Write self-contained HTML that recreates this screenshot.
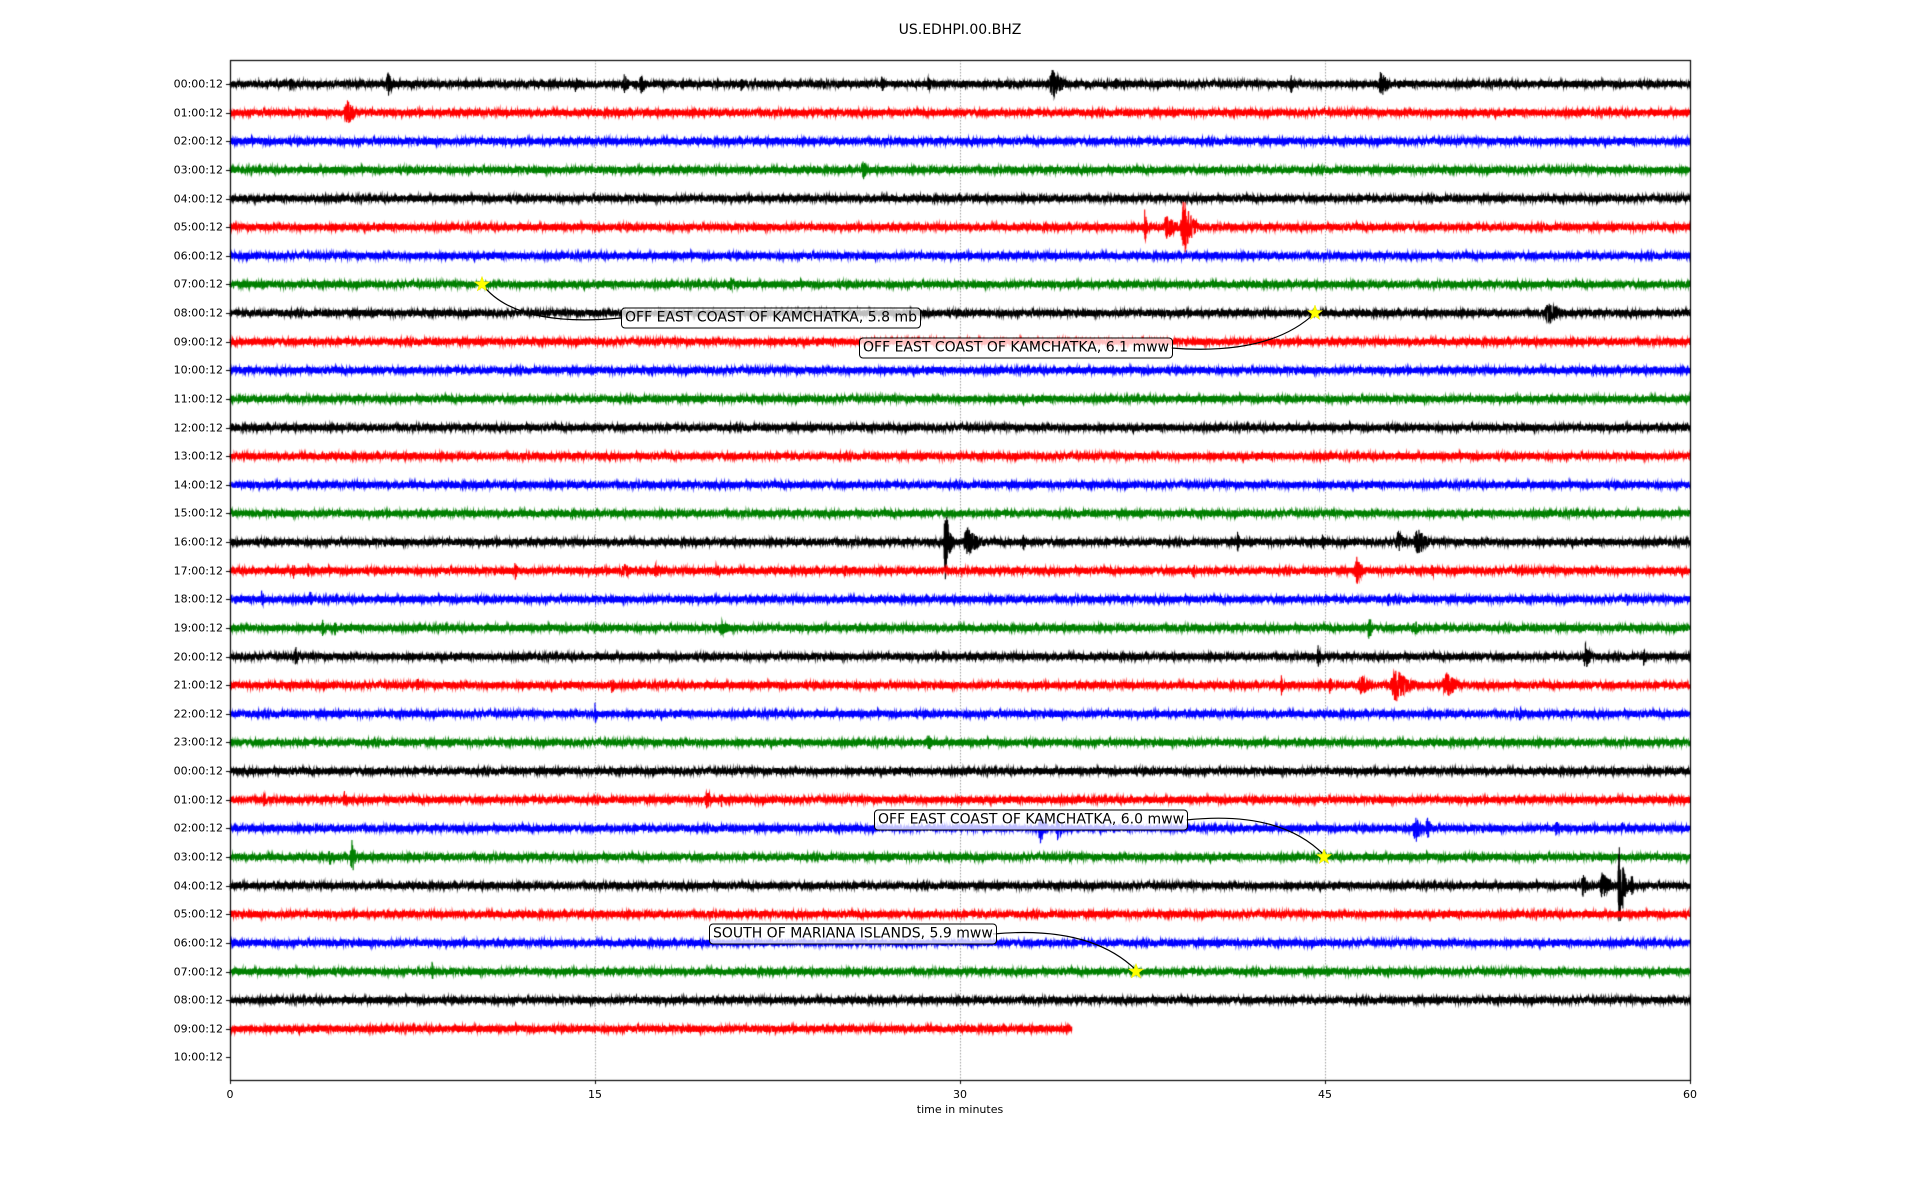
<!DOCTYPE html>
<html><head><meta charset="utf-8">
<style>
html,body{margin:0;padding:0;background:#fff;width:1920px;height:1200px;overflow:hidden;font-family:"DejaVu Sans","Liberation Sans",sans-serif;}
#c{position:absolute;left:0;top:0}
.t{position:absolute;font-size:12px;color:#000;white-space:nowrap}
.yl{position:absolute;right:1697px;font-size:11px;transform:translateY(-50%);white-space:nowrap}
.xl{position:absolute;top:1088px;font-size:11px;transform:translateX(-50%)}
.box{position:absolute;font-size:14px;background:rgba(255,255,255,0.75);border:1px solid #000;border-radius:4px;padding:1px 3px;transform:translateY(-50%);white-space:nowrap;line-height:17px}
svg{position:absolute;left:0;top:0}
</style></head><body>
<canvas id="c" width="1920" height="1200"></canvas>
<div class="t" style="left:960px;top:22px;font-size:14px;transform:translateX(-50%)">US.EDHPI.00.BHZ</div>
<div class="t" style="left:960px;top:1103px;font-size:11px;transform:translateX(-50%)">time in minutes</div>
<div id="yl"></div>
<div class="xl" style="left:230px">0</div>
<div class="xl" style="left:595px">15</div>
<div class="xl" style="left:960px">30</div>
<div class="xl" style="left:1325px">45</div>
<div class="xl" style="left:1690px">60</div>
<svg width="1920" height="1200">
<path d="M482,284 Q515,328 621,318" fill="none" stroke="#000" stroke-width="1.2"/>
<path d="M1315,313 Q1270,356 1171,348" fill="none" stroke="#000" stroke-width="1.2"/>
<path d="M1186,820 Q1280,810 1324,855" fill="none" stroke="#000" stroke-width="1.2"/>
<path d="M993,934 Q1090,925 1136,970" fill="none" stroke="#000" stroke-width="1.2"/>
<g id="stars" fill="#ffff00" stroke="#e6e600" stroke-width="0.5"></g>
</svg>
<div class="box" style="left:621px;top:318px">OFF EAST COAST OF KAMCHATKA, 5.8 mb</div>
<div class="box" style="left:859px;top:348px">OFF EAST COAST OF KAMCHATKA, 6.1 mww</div>
<div class="box" style="left:874px;top:820px">OFF EAST COAST OF KAMCHATKA, 6.0 mww</div>
<div class="box" style="left:709px;top:934px">SOUTH OF MARIANA ISLANDS, 5.9 mww</div>
<script>
var L=230,R=1690,T=60,B=1080,Y0=84,DY=28.63;
var cv=document.getElementById('c'),g=cv.getContext('2d');
function X(m){return L+m/60*(R-L);}
function Yr(r){return Y0+r*DY;}
var yl=document.getElementById('yl'),h='';
for(var r=0;r<35;r++){var hh=r%24;h+='<div class="yl" style="top:'+Yr(r)+'px">'+(hh<10?'0':'')+hh+':00:12</div>';}
yl.innerHTML=h;
g.strokeStyle='#888';g.lineWidth=0.8;g.setLineDash([1.5,1.5]);
[15,30,45].forEach(function(m){g.beginPath();g.moveTo(X(m)+0.5,T);g.lineTo(X(m)+0.5,B);g.stroke();});
g.setLineDash([]);
var seed=12345;function rnd(){seed=(seed*1103515245+12345)&0x7fffffff;return seed/0x7fffffff;}
var ev={0:[[2.5,5,.3],[6.5,9,.4],[14.2,6,.3],[16.2,7,.4],[16.9,7,.4],[17.8,5,.3],[21,5,.3],[26.8,6,.3],[28.7,5,.3],[32,5,.2],[33.8,10,.8],[36.4,5,.2],[43.6,7,.3],[47.3,10,.5]],
1:[[4.8,10,.6]],3:[[26,8,.3]],5:[[37.6,14,.2],[38.5,9,.7],[39.2,20,.6]],7:[[20.6,5,.8]],8:[[54.2,8,.9]],13:[[44.8,5,.1]],
16:[[29.4,26,.3],[30.3,10,.9],[32.6,7,.2],[41.4,8,.2],[44.9,8,.2],[48,8,.6],[48.8,10,.7]],
17:[[2.6,6,.2],[3.2,6,.2],[11.7,8,.2],[16.2,5,.8],[17.5,5,.6],[46.3,10,.4],[49.4,6,.2],[53.1,5,.2],[39.6,6,.2],[20,5,.5],[25.3,5,.2]],
18:[[1.3,8,.2],[3.3,6,.2],[47.6,5,.3],[57.4,6,.2]],19:[[3.8,6,.2],[4.3,6,.2],[46.8,12,.2],[48.7,6,.4],[20.2,5,.8]],
20:[[2.7,7,.3],[29.3,5,.2],[44.7,9,.2],[55.7,10,.4],[58.1,7,.2]],
21:[[7.7,6,.2],[15.7,6,.3],[43.2,8,.2],[45.2,6,.3],[46.5,7,.8],[47.9,12,1],[50,9,.8]],
22:[[15,8,.15],[53,7,.2]],23:[[28.7,6,.3],[39.4,5,.2]],25:[[1.4,6,.2],[4.7,7,.2],[19.6,7,.4],[20.2,5,.2]],
26:[[33.3,12,.4],[34,9,.4],[48.7,12,.4],[49.2,8,.4],[54.5,6,.3],[57.2,6,.2]],
27:[[5,13,.3],[4.1,6,.2],[34.5,5,.2]],28:[[55.6,8,.4],[56.4,10,.6],[57.1,36,.3],[57.6,8,.3]],31:[[8.3,7,.2]]};
var cols=['#000','#f00','#00f','#008000'];
for(var r=0;r<34;r++){
 var y=Yr(r),end=(r==33)?34.6:60,e=ev[r]||[];
 g.strokeStyle=cols[r%4];g.lineWidth=1.1;g.beginPath();
 var x1=X(end),first=true;
 for(var x=L;x<=x1;x+=0.15){
  var m=(x-L)/(R-L)*60,a=3.3;
  for(var k=0;k<e.length;k++){var d=(m-e[k][0])/e[k][2];if(d>-0.3&&d<2){var f=d<0?1+d/0.3:Math.exp(-d*1.8);a=Math.max(a,e[k][1]*1.5*f);}}
  var v=(rnd()*2-1)*a;
  if(first){g.moveTo(x,y+v);first=false;}else g.lineTo(x,y+v);
 }
 g.stroke();
}
g.strokeStyle='#000';g.lineWidth=1.2;g.strokeRect(L+0.5,T+0.5,R-L,B-T);
g.lineWidth=1;
for(var r=0;r<35;r++){var y=Math.round(Yr(r))+0.5;g.beginPath();g.moveTo(L-4,y);g.lineTo(L,y);g.stroke();}
[0,15,30,45,60].forEach(function(m){var x=Math.round(X(m))+0.5;g.beginPath();g.moveTo(x,B);g.lineTo(x,B+4);g.stroke();});
function star(cx,cy,R1){var p=[];for(var i=0;i<10;i++){var rr=i%2?R1*0.4:R1,a=-Math.PI/2+i*Math.PI/5;p.push((cx+rr*Math.cos(a)).toFixed(1)+','+(cy+rr*Math.sin(a)).toFixed(1));}return '<polygon points="'+p.join(' ')+'"/>';}
document.getElementById('stars').innerHTML=star(482,Yr(7),8)+star(1315,Yr(8),8)+star(1324,Yr(27),8)+star(1136,Yr(31),8);
</script>
</body></html>
